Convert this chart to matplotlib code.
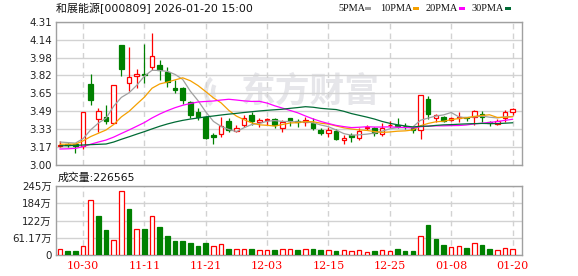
import matplotlib
matplotlib.use("Agg")
import matplotlib.pyplot as plt
from matplotlib.patches import Rectangle, Arc
import numpy as np

# ---------------- data ----------------
dates = ["10-27", "10-28", "10-29", "10-30", "10-31", "11-03", "11-04", "11-05", "11-06", "11-07",
         "11-10", "11-11", "11-12", "11-13", "11-14", "11-17", "11-18", "11-19", "11-20", "11-21",
         "11-24", "11-25", "11-26", "11-27", "11-28", "12-01", "12-02", "12-03", "12-04", "12-05",
         "12-08", "12-09", "12-10", "12-11", "12-12", "12-15", "12-16", "12-17", "12-18", "12-19",
         "12-22", "12-23", "12-24", "12-25", "12-26", "12-29", "12-30", "12-31", "01-05", "01-06",
         "01-07", "01-08", "01-09", "01-12", "01-13", "01-14", "01-15", "01-16", "01-19", "01-20"]

opens = [3.178, 3.188, 3.19, 3.175, 3.74, 3.42, 3.44, 3.38, 4.10, 3.75,
         3.81, 3.83, 3.90, 3.91, 3.85, 3.70, 3.70, 3.573, 3.487, 3.442,
         3.277, 3.28, 3.40, 3.314, 3.365, 3.457, 3.39, 3.41, 3.417, 3.335,
         3.426, 3.40, 3.39, 3.38, 3.32, 3.29, 3.31, 3.229, 3.27, 3.25,
         3.34, 3.335, 3.28, 3.365, 3.37, 3.36, 3.335, 3.32, 3.603, 3.433,
         3.44, 3.41, 3.43, 3.436, 3.442, 3.466, 3.39, 3.375, 3.426, 3.487]
highs = [3.22, 3.20, 3.195, 3.485, 3.83, 3.518, 3.548, 3.735, 4.10, 4.075,
         3.877, 4.106, 4.21, 3.96, 3.899, 3.777, 3.716, 3.585, 3.518, 3.45,
         3.29, 3.442, 3.426, 3.365, 3.457, 3.487, 3.426, 3.433, 3.433, 3.411,
         3.433, 3.42, 3.44, 3.426, 3.335, 3.35, 3.33, 3.27, 3.29, 3.335,
         3.37, 3.35, 3.38, 3.40, 3.43, 3.38, 3.35, 3.64, 3.631, 3.47,
         3.45, 3.44, 3.488, 3.44, 3.50, 3.494, 3.40, 3.42, 3.50, 3.518]
lows = [3.167, 3.16, 3.11, 3.144, 3.548, 3.305, 3.372, 3.38, 3.816, 3.676,
        3.707, 3.749, 3.868, 3.777, 3.716, 3.655, 3.554, 3.427, 3.411, 3.24,
        3.19, 3.259, 3.305, 3.305, 3.35, 3.365, 3.35, 3.365, 3.335, 3.30,
        3.36, 3.35, 3.356, 3.32, 3.274, 3.259, 3.229, 3.19, 3.213, 3.229,
        3.32, 3.268, 3.265, 3.335, 3.34, 3.33, 3.29, 3.24, 3.42, 3.396,
        3.396, 3.40, 3.396, 3.40, 3.37, 3.396, 3.36, 3.37, 3.396, 3.457]
closes = [3.185, 3.18, 3.175, 3.48, 3.59, 3.49, 3.40, 3.73, 3.88, 3.80,
          3.83, 3.82, 4.00, 3.87, 3.76, 3.69, 3.59, 3.46, 3.44, 3.25,
          3.255, 3.36, 3.32, 3.34, 3.43, 3.40, 3.41, 3.42, 3.37, 3.39,
          3.40, 3.39, 3.415, 3.335, 3.29, 3.32, 3.24, 3.25, 3.26, 3.31,
          3.35, 3.29, 3.335, 3.37, 3.36, 3.355, 3.32, 3.64, 3.47, 3.457,
          3.405, 3.43, 3.44, 3.43, 3.494, 3.442, 3.38, 3.405, 3.48, 3.51]

# volume in 万 (10k)
volumes = [19.8, 14, 14, 30.3, 194.8, 140, 87.5, 54.8, 226.3, 163.3,
           93.3, 91, 138.8, 98, 66.5, 49, 51.3, 42, 31.5, 42,
           30.3, 37.3, 21, 19.8, 19.8, 21, 16.3, 16.3, 17.5, 22.2,
           21, 17.5, 19.8, 21, 18.7, 17.5, 15.2, 17.5, 14, 16.3,
           10.5, 14, 16.3, 14, 21, 15.2, 15.2, 68.8, 105, 56,
           35, 26.8, 30.3, 24.5, 40.8, 35, 21, 16.3, 23.3, 22.66]
# 1 = up day (red), 0 = down day (green)
vol_up = [1, 0, 0, 1, 1, 0, 0, 1, 1, 0,
          1, 0, 1, 0, 0, 0, 0, 0, 0, 0,
          1, 1, 0, 1, 1, 0, 1, 1, 0, 1,
          1, 0, 1, 0, 0, 1, 0, 1, 1, 1,
          1, 0, 1, 1, 0, 0, 0, 1, 0, 0,
          0, 1, 1, 0, 1, 0, 0, 1, 1, 1]

ma5 = [3.21, 3.205, 3.20, 3.24, 3.321, 3.383, 3.427, 3.538, 3.618, 3.66,
       3.728, 3.812, 3.866, 3.864, 3.856, 3.828, 3.782, 3.674, 3.588, 3.486,
       3.399, 3.353, 3.325, 3.305, 3.341, 3.37, 3.38, 3.40, 3.406, 3.398,
       3.398, 3.394, 3.393, 3.386, 3.366, 3.35, 3.32, 3.287, 3.272, 3.276,
       3.282, 3.292, 3.309, 3.331, 3.341, 3.342, 3.348, 3.409, 3.429, 3.448,
       3.458, 3.48, 3.44, 3.432, 3.44, 3.447, 3.437, 3.43, 3.44, 3.443]
ma10 = [3.19, 3.19, 3.19, 3.22, 3.26, 3.29, 3.32, 3.37, 3.44, 3.49,
        3.556, 3.62, 3.702, 3.741, 3.758, 3.778, 3.797, 3.770, 3.726, 3.671,
        3.614, 3.568, 3.50, 3.447, 3.414, 3.385, 3.367, 3.363, 3.356, 3.370,
        3.384, 3.387, 3.397, 3.396, 3.382, 3.374, 3.357, 3.340, 3.329, 3.321,
        3.316, 3.306, 3.298, 3.302, 3.309, 3.312, 3.320, 3.359, 3.380, 3.395,
        3.400, 3.414, 3.425, 3.431, 3.444, 3.453, 3.459, 3.435, 3.436, 3.442]
ma20 = [3.146, 3.148, 3.152, 3.168, 3.19, 3.21, 3.228, 3.255, 3.288, 3.32,
        3.354, 3.388, 3.43, 3.466, 3.497, 3.524, 3.546, 3.562, 3.576, 3.581,
        3.585, 3.594, 3.601, 3.594, 3.586, 3.581, 3.582, 3.566, 3.541, 3.520,
        3.499, 3.477, 3.448, 3.421, 3.398, 3.379, 3.362, 3.351, 3.342, 3.345,
        3.350, 3.347, 3.347, 3.349, 3.345, 3.343, 3.339, 3.350, 3.355, 3.358,
        3.358, 3.360, 3.361, 3.366, 3.376, 3.382, 3.389, 3.397, 3.408, 3.418]
ma30 = [3.175, 3.177, 3.179, 3.183, 3.186, 3.189, 3.192, 3.21, 3.235, 3.258,
        3.282, 3.305, 3.33, 3.354, 3.375, 3.393, 3.408, 3.42, 3.43, 3.44,
        3.448, 3.457, 3.465, 3.472, 3.48, 3.487, 3.494, 3.50, 3.505, 3.510,
        3.518, 3.525, 3.533, 3.528, 3.518, 3.512, 3.507, 3.491, 3.470, 3.454,
        3.438, 3.420, 3.398, 3.381, 3.368, 3.357, 3.348, 3.354, 3.355, 3.362,
        3.367, 3.369, 3.373, 3.376, 3.378, 3.380, 3.379, 3.378, 3.382, 3.386]

price_tick_labels = ["3.00", "3.17", "3.33", "3.49", "3.65", "3.82", "3.98", "4.14", "4.31"]
vol_tick_labels = ["0", "61.17万", "122万", "184万", "245万"]
date_tick_labels = ["10-30", "11-11", "11-21", "12-03", "12-15", "12-25", "01-08", "01-20"]

stock_title = "和展能源[000809] 2026-01-20 15:00"
vol_title = "成交量:226565"
ma_names = ["5PMA", "10PMA", "20PMA", "30PMA"]
watermark = "东方财富"

# ---------------- style ----------------
W, H = 578, 276
RED = "#ff0000"
GREEN = "#008000"
MA_COLORS = ["#a0a0a0", "#f5a000", "#ff00ff", "#006b35"]
GRID = "#d2d2d2"
SPINE = "#a0a0a0"
WM = "#e6e6ea"
CJK = ["DejaVu Sans", "Noto Sans CJK SC"]


def fx(x):
    return x / W


def fy(y):
    return 1 - y / H


fig = plt.figure(figsize=(W / 100, H / 100), dpi=100)
fig.patch.set_facecolor("white")

left, right = 56, 522
p_top, p_bot = 21.7, 165
v_top, v_bot = 186, 255

ax = fig.add_axes([fx(left), fy(p_bot), (right - left) / W, (p_bot - p_top) / H])
axv = fig.add_axes([fx(left), fy(v_bot), (right - left) / W, (v_bot - v_top) / H])

n = len(closes)
xs = np.arange(n)
xlim = (-0.52, 60.23)

# ---------------- price panel ----------------
pmin, pmax = 3.00, 4.31
ax.set_xlim(*xlim)
ax.set_ylim(pmin, pmax)
pticks = np.linspace(pmin, pmax, len(price_tick_labels))
ax.set_yticks(pticks)
ax.set_yticklabels(price_tick_labels)
date_idx = [dates.index(d) for d in date_tick_labels]
ax.set_xticks(date_idx)
ax.set_xticklabels([])
ax.set_axisbelow(True)
ax.yaxis.grid(True, color=GRID, lw=1.0, ls="-")
ax.xaxis.grid(True, color=GRID, lw=1.0, ls=(0, (4, 3)))

# watermark (logo swoosh + text), under the grid
pw = (right - left) / 100.0  # axes width in inches
ax.text((310 - left) / (right - left), (p_bot - 91.5) / (p_bot - p_top), watermark,
        transform=ax.transAxes, fontsize=25, fontweight="bold",
        color=WM, family=["Noto Sans CJK SC"], ha="center", va="center", zorder=0.3)
for (cx, w, hh, t1, t2) in [(219, 26, 32, 100, 260), (222, 18, 24, 110, 250)]:
    ax.add_patch(Arc(((cx - left) / (right - left), (p_bot - 91.5) / (p_bot - p_top)),
                     w / (right - left), hh / (p_bot - p_top), theta1=t1, theta2=t2,
                     transform=ax.transAxes, color=WM, lw=3.0, zorder=0.3))

body_w = 0.6
for i in range(n):
    o, h, l, c = opens[i], highs[i], lows[i], closes[i]
    up = c >= o
    col = RED if up else GREEN
    ax.vlines(i, l, h, color=col, lw=0.9, zorder=2)
    lo, hi = min(o, c), max(o, c)
    hgt = max(hi - lo, 0.0005)
    ax.add_patch(Rectangle((i - body_w / 2, lo), body_w, hgt,
                           facecolor="white" if up else GREEN, edgecolor=col,
                           lw=0.9, zorder=3))

for vals, colr in zip([ma5, ma10, ma20, ma30], MA_COLORS):
    ax.plot(xs, vals, color=colr, lw=0.9, zorder=4)

# ---------------- volume panel ----------------
vmax = 61.17 * 4
axv.set_xlim(*xlim)
axv.set_ylim(0, vmax)
axv.set_yticks([61.17 * k for k in range(5)])
axv.set_yticklabels(vol_tick_labels)
axv.set_xticks(date_idx)
axv.set_xticklabels(date_tick_labels)
axv.set_axisbelow(True)
axv.yaxis.grid(True, color=GRID, lw=1.0, ls="-")
axv.xaxis.grid(True, color=GRID, lw=1.0, ls=(0, (4, 3)))

for i in range(n):
    if vol_up[i]:
        axv.add_patch(Rectangle((i - body_w / 2, 0), body_w, volumes[i],
                                facecolor="white", edgecolor=RED, lw=0.9, zorder=3))
    else:
        axv.add_patch(Rectangle((i - body_w / 2, 0), body_w, volumes[i],
                                facecolor=GREEN, edgecolor=GREEN, lw=0.9, zorder=3))

for a in (ax, axv):
    for s in a.spines.values():
        s.set_color(SPINE)
        s.set_linewidth(1.0)
    a.tick_params(length=0)
    a.tick_params(axis="y", pad=3)
    for t in a.get_yticklabels():
        t.set_fontfamily(CJK)
        t.set_fontsize(7.4)
        t.set_color("#222222")

axv.tick_params(axis="x", pad=4)
for t in axv.get_xticklabels():
    t.set_fontfamily("DejaVu Serif")
    t.set_fontsize(8)
    t.set_color(RED)

# ---------------- texts ----------------
fig.text(fx(56), fy(8.5), stock_title, fontsize=7.9, family=CJK, color="#111111",
         ha="left", va="center")
fig.text(fx(57.3), fy(177.7), vol_title, fontsize=7.8, family=CJK, color="#111111",
         ha="left", va="center")

label_x = [338.3, 380, 426, 471.7]
dash_x = [365, 413.3, 459.3, 505]
for name, lx, dx, colr in zip(ma_names, label_x, dash_x, MA_COLORS):
    fig.text(fx(lx), fy(8.5), name, fontsize=7.4, family="Liberation Serif",
             color="#111111", ha="left", va="center")
    fig.patches.append(Rectangle((fx(dx), fy(9.5)), 6 / W, 2.2 / H,
                                 transform=fig.transFigure, facecolor=colr,
                                 edgecolor="none", figure=fig))

fig.savefig("out.png", dpi=100, facecolor="white")
